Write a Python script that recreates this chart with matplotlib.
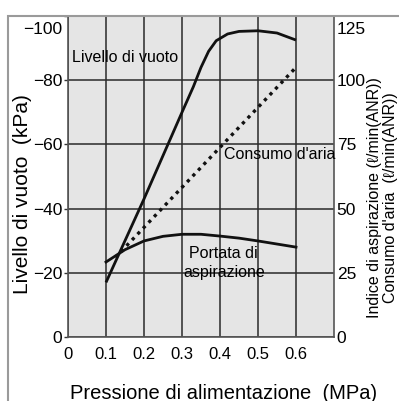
import matplotlib.pyplot as plt
import matplotlib.transforms as mtransforms
from matplotlib.patches import Rectangle

plt.rcParams['font.family'] = ['Liberation Sans', 'DejaVu Sans']

# pressione di alimentazione (MPa)
vac_x = [0.1, 0.2, 0.3, 0.33, 0.35, 0.37, 0.39, 0.42, 0.45, 0.50, 0.55, 0.60]
vac_y = [-17, -43, -70, -78, -84, -89, -92.3, -94.4, -95.2, -95.4, -94.7, -92.5]

flow_x = [0.1, 0.15, 0.2, 0.25, 0.3, 0.35, 0.4, 0.45, 0.5, 0.55, 0.6]
flow_y = [29.2, 34, 37.4, 39.2, 40, 40, 39.3, 38.5, 37.4, 36.2, 35]

air_x = [0.125, 0.6]
air_y = [31, 105]

xticks = [0, 0.1, 0.2, 0.3, 0.4, 0.5, 0.6]
lticks = [0, -20, -40, -60, -80, -100]
rticks = [0, 25, 50, 75, 100, 125]

W, H = 399, 401
fig = plt.figure(figsize=(W / 100, H / 100), dpi=100)

# gray outer frame
fig.patches.append(Rectangle((8 / W, -0.1), 1.2, (H - 16) / H + 0.1,
                             transform=fig.transFigure, fill=False,
                             ec='#9a9a9a', lw=1.5, zorder=0))

ax = fig.add_axes([68 / W, (H - 337) / H, (334 - 68) / W, (337 - 16) / H])
ax.set_facecolor('#e5e5e5')
ax.set_xlim(0, 0.7)
ax.set_ylim(0, -100)
ax.set_xticks(xticks)
ax.set_xticklabels(['0', '0.1', '0.2', '0.3', '0.4', '0.5', '0.6'])
ax.set_yticks(lticks)
ax.grid(True, color='#2a2a2a', lw=1.1)
ax.set_axisbelow(True)
for s in ax.spines.values():
  s.set_color('#555555')
  s.set_linewidth(1.2)
ax.tick_params(axis='x', length=0, pad=7, labelsize=12)
ax.tick_params(axis='y', length=3, width=1, pad=1, labelsize=12.5, color='#333333')

# top labels sit a bit below their gridline
shift = mtransforms.ScaledTranslation(0, -4 / 72, fig.dpi_scale_trans)
lab = ax.get_yticklabels()[-1]
lab.set_verticalalignment('top')
lab.set_transform(lab.get_transform() + shift)

ax.plot(vac_x, vac_y, color='#111111', lw=2.0, solid_capstyle='butt', zorder=3)

ax2 = ax.twinx()
ax2.set_ylim(0, 125)
ax2.set_yticks(rticks)
ax2.tick_params(axis='y', length=0, pad=2, labelsize=12.5)
lab2 = ax2.get_yticklabels()[-1]
lab2.set_verticalalignment('top')
lab2.set_transform(lab2.get_transform() + shift)
for s in ax2.spines.values():
  s.set_visible(False)
ax2.plot(flow_x, flow_y, color='#111111', lw=2.0, zorder=3)
ax2.plot(air_x, air_y, color='#111111', lw=2.4, linestyle=(0, (1.0, 1.4)), zorder=3)

# annotazioni
ax.text(0.01, -87, 'Livello di vuoto', fontsize=11.5, ha='left', va='center')
ax2.text(0.41, 71.2, "Consumo d'aria", fontsize=11.5, ha='left', va='center')
ax2.text(0.41, 28.8, 'Portata di\naspirazione', fontsize=11.5, ha='center', va='center',
         linespacing=1.35)

ax.set_xlabel('Pressione di alimentazione  (MPa)', fontsize=14.5)
fig.text(23 / W, 1 - 194 / H, 'Livello di vuoto  (kPa)', fontsize=15,
         rotation=90, ha='center', va='center')
fig.text(375 / W, 1 - 198 / H, 'Indice di aspirazione (ℓ/min(ANR))', fontsize=11.5,
         rotation=90, ha='center', va='center')
fig.text(391 / W, 1 - 198 / H, "Consumo d'aria  (ℓ/min(ANR))", fontsize=11.5,
         rotation=90, ha='center', va='center')
ax.xaxis.set_label_coords(0.585, -0.145)

fig.savefig('out.png', dpi=100)
